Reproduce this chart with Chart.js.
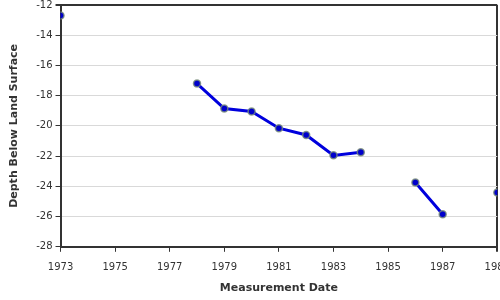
<!DOCTYPE html>
<html><head><meta charset="utf-8">
<script src="https://cdn.jsdelivr.net/npm/chart.js@4"></script>
<style>
html,body{margin:0;padding:0;background:#fff;overflow:hidden;width:500px;height:300px;position:relative;}
#wrap{position:absolute;left:0;top:-4px;width:520px;height:304px;}
</style></head><body>
<div id="wrap"><canvas id="c"></canvas></div>
<script>
const years = [1973,1974,1975,1976,1977,1978,1979,1980,1981,1982,1983,1984,1985,1986,1987,1988,1989];
const depths = [-12.7,null,null,null,null,-17.2,-18.85,-19.05,-20.15,-20.6,-21.95,-21.75,null,-23.75,-25.85,null,-24.4];
const yTicks = [-12,-14,-16,-18,-20,-22,-24,-26,-28];
const xTicks = [1973,1975,1977,1979,1981,1983,1985,1987,1989];

const pts = years.map((y,i)=>({x:y, y:depths[i]}));
const font = {family:'"DejaVu Sans", Verdana, sans-serif', size:10};
new Chart(document.getElementById('c'), {
  type:'line',
  data:{datasets:[{
    data:pts,
    borderColor:'#0000dd',
    borderWidth:3,
    backgroundColor:'#0000cc',
    pointBackgroundColor:'#0000cc',
    pointBorderColor:'rgba(120,140,120,0.8)',
    pointBorderWidth:1.5,
    pointRadius:3.5,
    spanGaps:false,
    tension:0
  }]},
  options:{
    responsive:true, maintainAspectRatio:false, animation:false,
    layout:{padding:{top:0,left:8,right:0,bottom:5}},
    plugins:{legend:{display:false},tooltip:{enabled:false}},
    scales:{
      x:{type:'linear', min:1973, max:1989,
        afterBuildTicks:(s)=>{s.ticks = xTicks.map(v=>({value:v}));},
        ticks:{font:font,color:'#333',maxRotation:0,autoSkip:false,callback:v=>String(v),padding:10},
        grid:{display:true,drawOnChartArea:true,tickLength:5,
          color:(ctx)=> (ctx.tick && ctx.tick.value===1989) ? '#333' : 'rgba(0,0,0,0)',
          tickColor:'#333', lineWidth:(ctx)=> (ctx.tick && ctx.tick.value===1989) ? 2 : 1},
        border:{display:true,color:'#333',width:2},
        title:{display:true,text:'Measurement Date',font:{family:'"DejaVu Sans", Verdana, sans-serif',size:11,weight:'bold'},color:'#333',padding:{top:-2,bottom:0}}
      },
      y:{type:'linear', min:-28, max:-12,
        afterBuildTicks:(s)=>{s.ticks = yTicks.map(v=>({value:v}));},
        ticks:{font:font,color:'#333',callback:v=>String(v),padding:3},
        grid:{tickLength:5,
          color:(ctx)=> (ctx.tick && ctx.tick.value===-12) ? '#333' : '#d9d9d9',
          lineWidth:(ctx)=> (ctx.tick && ctx.tick.value===-12) ? 2 : 1,
          tickColor:'#333'},
        border:{display:true,color:'#333',width:2},
        title:{display:true,text:'Depth Below Land Surface',font:{family:'"DejaVu Sans", Verdana, sans-serif',size:11,weight:'bold'},color:'#333',padding:{top:0,bottom:12}}
      }
    }
  }
});
</script>
</body></html>
